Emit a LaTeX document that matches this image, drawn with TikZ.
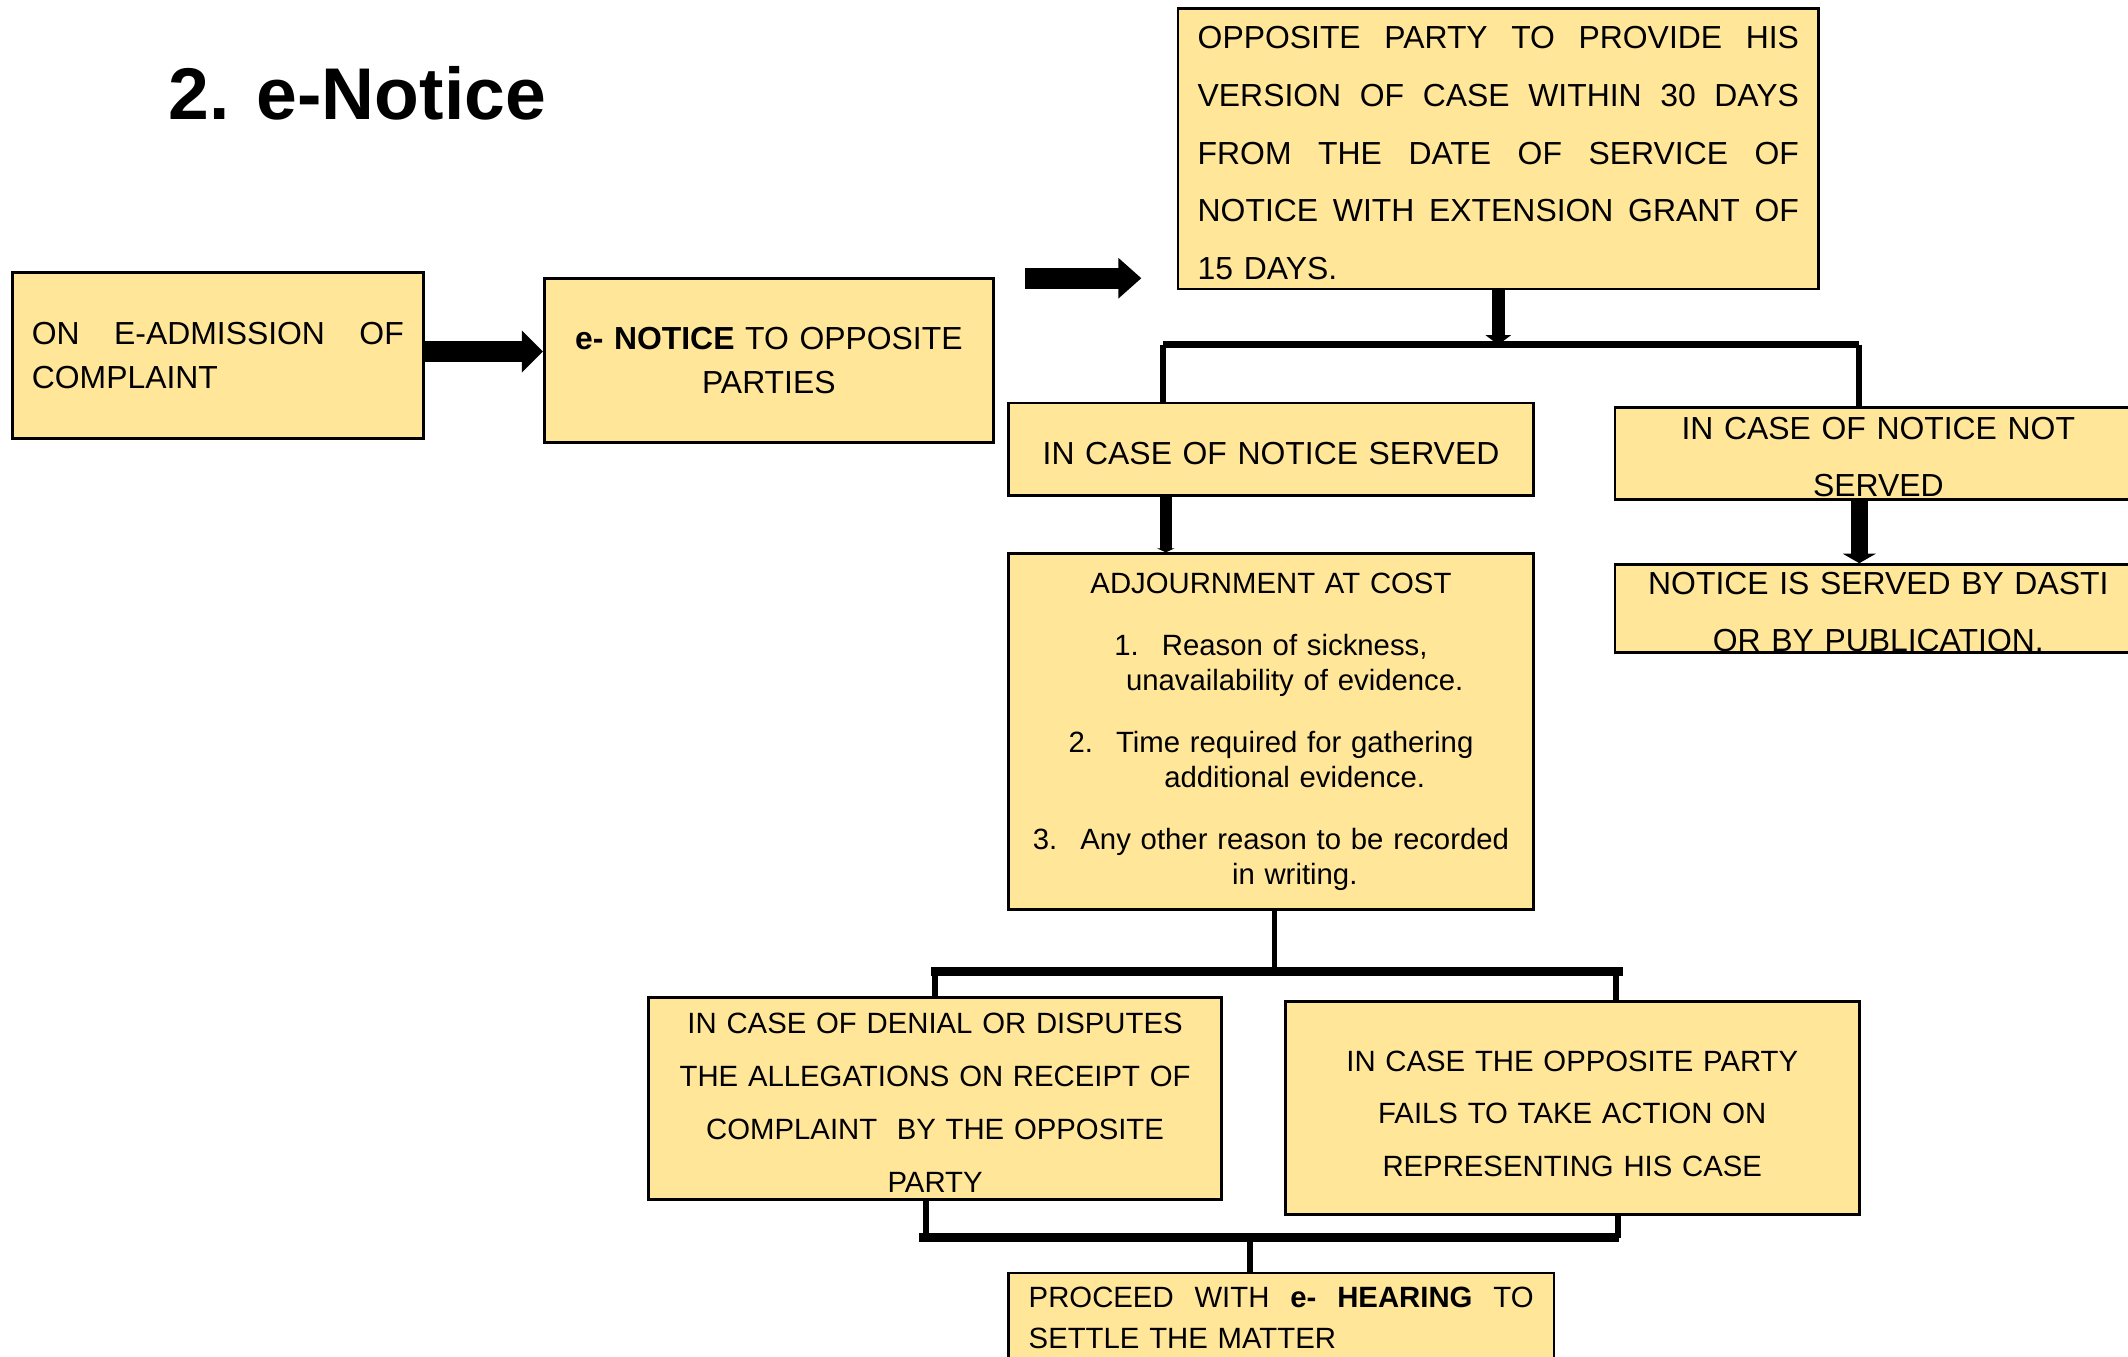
\documentclass[tikz,border=0pt]{standalone}
\usepackage{fontspec}
\setmainfont{Liberation Sans}
\usetikzlibrary{arrows.meta,calc}
\definecolor{boxfill}{HTML}{FFE699}
\newcommand\txtup[1]{\rule{0pt}{#1pt}}
\begin{document}
\begin{tikzpicture}[x=1pt,y=-1pt,
  box/.style={draw=black,line width=2pt,fill=boxfill,inner sep=0pt,text=black},
  bigtxt/.style={font=\fontsize{23.5}{#1}\selectfont},
  smalltxt/.style={font=\fontsize{21.6}{#1}\selectfont},
  arrAB/.style={line width=15.5pt,-{Triangle[width=30pt,length=15.5pt]}},
  arrBC/.style={line width=15.5pt,-{Triangle[width=29pt,length=17pt]}},
  arrCdown/.style={line width=9.3pt,-{Triangle[width=18.4pt,length=7pt]}},
  arrDF/.style={line width=8.6pt,-{Triangle[width=13pt,length=3pt]}},
  arrEG/.style={line width=12.8pt,-{Triangle[width=24pt,length=7pt]}},
  barline/.style={line width=#1},
  vline/.style={line width=#1}
]
\fill[white] (0,0) rectangle (1568,999.2);
\useasboundingbox (0,0) rectangle (1568,999.2);

% title
\node[anchor=base west,inner sep=0pt,font=\fontsize{54}{64}\selectfont\bfseries] (title) at (124,88) {2. e-Notice};

% boxes
\node[box,bigtxt=32,minimum width=303pt,minimum height=122pt,text width=274pt,align=left] (A) at (160.5,262)
  {\makebox[274pt]{ON\hfill E-ADMISSION\hfill OF}\\COMPLAINT};
\node[box,bigtxt=32,minimum width=331pt,minimum height=121pt,text width=320pt,align=center] (B) at (566.5,265.5)
  {\textbf{e- NOTICE} TO OPPOSITE\\PARTIES};
\node[box,bigtxt=42.5,minimum width=472pt,minimum height=207pt,text width=443pt,align=left] (C) at (1104,109.5)
  {\makebox[443pt]{\txtup{23}OPPOSITE\hfill PARTY\hfill TO\hfill PROVIDE\hfill HIS}\\
   \makebox[443pt]{VERSION\hfill OF\hfill CASE\hfill WITHIN\hfill 30\hfill DAYS}\\
   \makebox[443pt]{FROM\hfill THE\hfill DATE\hfill OF\hfill SERVICE\hfill OF}\\
   \makebox[443pt]{NOTICE\hfill WITH\hfill EXTENSION\hfill GRANT\hfill OF}\\
   15 DAYS.};
\node[box,bigtxt=32,minimum width=387pt,minimum height=68pt,text width=380pt,align=center] (D) at (936.5,331)
  {\txtup{23}IN CASE OF NOTICE SERVED};
\node[box,bigtxt=42,minimum width=388pt,minimum height=68pt,text width=380pt,align=center] (E) at (1384,334)
  {\txtup{21.5}IN CASE OF NOTICE NOT\\SERVED};
\node[box,smalltxt=25.5,minimum width=387pt,minimum height=262pt,text width=380pt,align=center] (F) at (936.5,539)
  {ADJOURNMENT AT COST\\[20.5pt]
   \hspace*{35pt}\llap{1.\hspace{17pt}}Reason of sickness,\\
   \hspace*{35pt}unavailability of evidence.\\[20.5pt]
   \hspace*{35pt}\llap{2.\hspace{17pt}}Time required for gathering\\
   \hspace*{35pt}additional evidence.\\[20.5pt]
   \hspace*{35pt}\llap{3.\hspace{17pt}}Any other reason to be recorded\\
   \hspace*{35pt}in writing.};
\node[box,bigtxt=42,minimum width=388pt,minimum height=65pt,text width=380pt,align=center] (G) at (1384,448.5)
  {\txtup{21.5}NOTICE IS SERVED BY DASTI\\OR BY PUBLICATION.};
\node[box,smalltxt=39,minimum width=422pt,minimum height=149pt,text width=412pt,align=center] (H) at (689,809.5)
  {\txtup{21.5}IN CASE OF DENIAL OR DISPUTES\\THE ALLEGATIONS ON RECEIPT OF\\COMPLAINT\ \ BY THE OPPOSITE\\PARTY};
\node[box,smalltxt=39,minimum width=423pt,minimum height=157pt,text width=412pt,align=center] (I) at (1158.5,816.5)
  {\txtup{23.5}IN CASE THE OPPOSITE PARTY\\FAILS TO TAKE ACTION ON\\REPRESENTING HIS CASE};
\node[box,smalltxt=30,minimum width=402pt,minimum height=66pt,text width=372pt,align=left] (J) at (944,971)
  {\makebox[372pt]{PROCEED\hfill WITH\hfill \textbf{e-}\hfill \textbf{HEARING}\hfill TO}\\SETTLE THE MATTER};

% block arrows
\draw[arrAB] ($(A.east)+(0,-3)$) -- ($(A.east -| B.west)+(0,-3)$);
\draw[arrBC] ($(B.east |- C.south)+(22,-9)$) -- ($(C.south west)+(-26,-9)$);

% first split
\coordinate (b1l) at (857,254);
\coordinate (b1r) at (1370,254);
\draw[barline=5.4pt] (b1l) -- (b1r);
\draw[arrCdown] (C.south) -- (C.south |- b1l);
\draw[vline=4.6pt] (b1l) -- (b1l |- D.north);
\draw[vline=4.6pt] (b1r) -- (b1r |- E.north);

\draw[arrDF] ($(D.south west)+(117,0)$) -- ($(F.north west)+(117,0)$);
\draw[arrEG] ($(E.south west)+(181,0)$) -- ($(G.north west)+(181,0)$);

% second split
\coordinate (b2l) at (686,716);
\coordinate (b2r) at (1196,716);
\coordinate (fo) at ($(F.south)+(2.5,0)$);
\coordinate (b2i) at (1191,716);
\draw[vline=4pt] (fo) -- (fo |- b2l);
\draw[barline=7pt] (b2l) -- (b2r);
\draw[vline=4.5pt] (H.north |- b2l) -- (H.north);
\draw[vline=4.5pt] (b2i) -- (b2i |- I.north);

% merge
\coordinate (b3l) at (677,912);
\coordinate (b3r) at (1193,912);
\coordinate (hc) at (682,912);
\coordinate (ic) at (1192,912);
\coordinate (jc) at (921,912);
\draw[vline=4.5pt] (hc |- H.south) -- (hc);
\draw[vline=4.5pt] (ic |- I.south) -- (ic);
\draw[barline=7pt] (b3l) -- (b3r);
\draw[vline=5pt] (jc) -- (jc |- J.north);
\end{tikzpicture}
\end{document}
